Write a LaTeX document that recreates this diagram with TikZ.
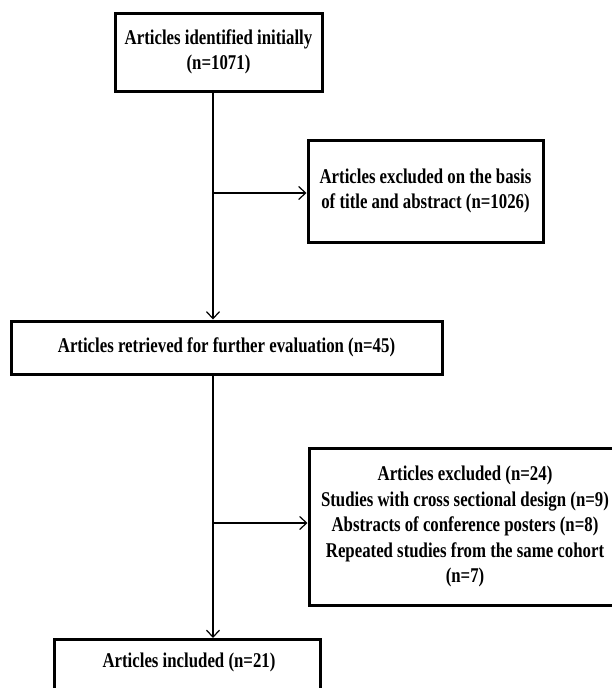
\documentclass[tikz,border=0pt]{standalone}
\usepackage{fontspec}
\setmainfont{Liberation Serif}[FakeStretch=0.8]
\usetikzlibrary{arrows.meta}
\tikzset{
  txt/.style={font=\fontsize{21}{25.5}\selectfont\bfseries, align=center},
  box/.style={draw=black, line width=3pt, fill=white, txt, inner sep=0pt},
  arr/.style={draw=black, line width=1.2pt, -{Straight Barb[length=7pt,width=13pt,line width=1.2pt]}},
  ln/.style={draw=black, line width=1.2pt}
}
\begin{document}
\begin{tikzpicture}[x=1pt,y=-1pt]
\useasboundingbox[fill=white] (0,0) rectangle (612,688);
\clip (0,0) rectangle (612,688);
\node[box, minimum width=207pt, minimum height=78pt] (b1) at (218.5,52) {Articles identified initially\\(n=1071)};
\node[box, minimum width=235pt, minimum height=102pt] (b2) at (425.5,191) {Articles excluded on the basis\\of title and abstract (n=1026)};
\node[box, minimum width=431pt, minimum height=53pt] (b3) at (226.5,347.5) {Articles retrieved for further evaluation (n=45)};
\node[box, minimum width=312pt, minimum height=157pt] (b4) at (465,526.5) {Articles excluded (n=24)\\Studies with cross sectional design (n=9)\\Abstracts of conference posters (n=8)\\Repeated studies from the same cohort\\(n=7)};
\node[box, minimum width=266pt, minimum height=76pt, anchor=north east] (b5) at (322,638) {};
\node[txt] (t5) at (189,662) {Articles included (n=21)};
\coordinate (j1) at (213,193);
\coordinate (j2) at (213,523);
\draw[arr] (j1 |- b1.south) -- (j1 |- b3.north);
\draw[arr] (j1) -- (b2.west |- j1);
\draw[arr] (j2 |- b3.south) -- (j2 |- b5.north);
\draw[arr] (j2) -- (b4.west |- j2);
\end{tikzpicture}
\end{document}
